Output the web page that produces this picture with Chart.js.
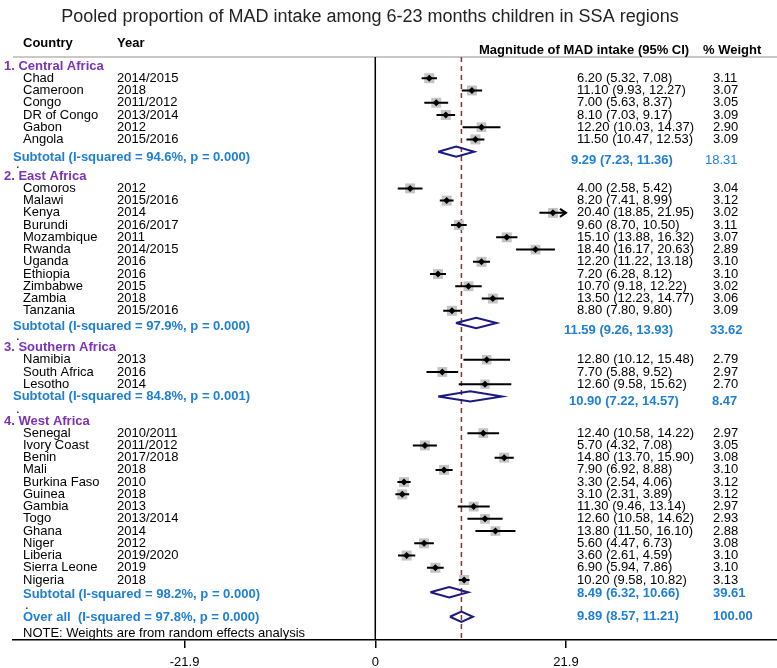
<!DOCTYPE html>
<html lang="en">
<head>
<meta charset="UTF-8">
<title>Pooled proportion of MAD intake</title>
<script src="https://cdn.jsdelivr.net/npm/chart.js"></script>
<style>
    body { margin: 0; background: #fff; }
    #wrap { width: 777px; height: 668px; }
</style>
</head>
<body>
<div id="wrap"><canvas id="forest" width="777" height="668"></canvas></div>
<script>
// study rows, as printed in the figure
const regions = ['1. Central Africa', '2. East Africa', '3. Southern Africa', '4. West Africa'];
const regionOfStudy = [0,0,0,0,0,0, 1,1,1,1,1,1,1,1,1,1,1, 2,2,2, 3,3,3,3,3,3,3,3,3,3,3,3,3];
const countries = ['Chad','Cameroon','Congo','DR of Congo','Gabon','Angola',
    'Comoros','Malawi','Kenya','Burundi','Mozambique','Rwanda','Uganda','Ethiopia','Zimbabwe','Zambia','Tanzania',
    'Namibia','South Africa','Lesotho',
    'Senegal','Ivory Coast','Benin','Mali','Burkina Faso','Guinea','Gambia','Togo','Ghana','Niger','Liberia','Sierra Leone','Nigeria'];
const years = ['2014/2015','2018','2011/2012','2013/2014','2012','2015/2016',
    '2012','2015/2016','2014','2016/2017','2011','2014/2015','2016','2016','2015','2018','2015/2016',
    '2013','2016','2014',
    '2010/2011','2011/2012','2017/2018','2018','2010','2018','2013','2013/2014','2014','2012','2019/2020','2019','2018'];
const estimates = [6.20,11.10,7.00,8.10,12.20,11.50,
    4.00,8.20,20.40,9.60,15.10,18.40,12.20,7.20,10.70,13.50,8.80,
    12.80,7.70,12.60,
    12.40,5.70,14.80,7.90,3.30,3.10,11.30,12.60,13.80,5.60,3.60,6.90,10.20];
const lowerCI = [5.32,9.93,5.63,7.03,10.03,10.47,
    2.58,7.41,18.85,8.70,13.88,16.17,11.22,6.28,9.18,12.23,7.80,
    10.12,5.88,9.58,
    10.58,4.32,13.70,6.92,2.54,2.31,9.46,10.58,11.50,4.47,2.61,5.94,9.58];
const upperCI = [7.08,12.27,8.37,9.17,14.37,12.53,
    5.42,8.99,21.95,10.50,16.32,20.63,13.18,8.12,12.22,14.77,9.80,
    15.48,9.52,15.62,
    14.22,7.08,15.90,8.88,4.06,3.89,13.14,14.62,16.10,6.73,4.59,7.86,10.82];
const weights = ['3.11','3.07','3.05','3.09','2.90','3.09',
    '3.04','3.12','3.02','3.11','3.07','2.89','3.10','3.10','3.02','3.06','3.09',
    '2.79','2.97','2.70',
    '2.97','3.05','3.08','3.10','3.12','3.12','2.97','2.93','2.88','3.08','3.10','3.10','3.13'];

// pooled rows: four subtotals then the overall estimate
const pooledLabels = ['Subtotal (I-squared = 94.6%, p = 0.000)', 'Subtotal (I-squared = 97.9%, p = 0.000)',
    'Subtotal (I-squared = 84.8%, p = 0.001)', 'Subtotal (I-squared = 98.2%, p = 0.000)',
    'Over all  (I-squared = 97.8%, p = 0.000)'];
const pooledEst = [9.29, 11.59, 10.90, 8.49, 9.89];
const pooledLow = [7.23, 9.26, 7.22, 6.32, 8.57];
const pooledHigh = [11.36, 13.93, 14.57, 10.66, 11.21];
const pooledWeight = ['18.31', '33.62', '8.47', '39.61', '100.00'];

const xTicks = [-21.9, 0, 21.9];
const xLimit = 21.9;

// where each text sits (px); stata moves some of them a little
const pooledLabelX = [13, 13, 13, 23, 23];
const pooledLabelShift = [6, 3, 0, 2, 1];
const pooledValueX = [571, 564, 569, 577, 577];
const pooledValueShift = [9, 7, 5, 1, 0];
const pooledWeightX = [705, 710, 712, 713, 713];
const pooledWeightBold = [false, true, true, true, true];
const dotX = [16, 16, 16, 25];

// row numbers: header, studies, subtotal, blank line
let row = 1;
const headerRow = [], studyRow = [], pooledRow = [];
regions.forEach((r, g) => {
    headerRow.push(row++);
    regionOfStudy.forEach((rg, i) => { if (rg === g) studyRow[i] = row++; });
    pooledRow.push(row++);
    row++;
});
pooledRow.push(row);

const FONT = "'Liberation Sans', Arial, sans-serif";
const BLUE = '#1f7fd6';
const PURPLE = '#7b32b8';
const NAVY = '#1a1a80';

const squareData = estimates.map((e, i) => ({x: e, y: studyRow[i]}));
const squareRadius = weights.map(w => 10 * Math.sqrt(parseFloat(w) / 3.1) / Math.SQRT2);
const ciData = [];
estimates.forEach((e, i) => {
    ciData.push({x: lowerCI[i], y: studyRow[i]}, {x: Math.min(upperCI[i], xLimit), y: studyRow[i]}, {x: e, y: null});
});
const diamondData = [];
pooledEst.forEach((e, k) => {
    const r = pooledRow[k];
    diamondData.push({x: pooledLow[k], y: r}, {x: e, y: r - 0.42}, {x: pooledHigh[k], y: r},
        {x: e, y: r + 0.42}, {x: pooledLow[k], y: r}, {x: e, y: null});
});

function txt(ctx, s, x, y, color, bold, size, align) {
    ctx.font = (bold ? 'bold ' : '') + (size || 13) + 'px ' + FONT;
    ctx.fillStyle = color;
    ctx.textAlign = align || 'left';
    ctx.textBaseline = 'middle';
    ctx.fillText(s, x, y);
}

const forestPlugin = {
    id: 'forest',
    beforeDatasetsDraw(chart) {
        const ctx = chart.ctx, xs = chart.scales.x, a = chart.chartArea;
        ctx.save();
        ctx.strokeStyle = '#c8c8c8';
        ctx.lineWidth = 2;
        ctx.beginPath(); ctx.moveTo(a.left, a.top); ctx.lineTo(a.right, a.top); ctx.stroke();
        // null line
        ctx.strokeStyle = '#000';
        ctx.lineWidth = 1.5;
        const x0 = xs.getPixelForValue(0);
        ctx.beginPath(); ctx.moveTo(x0, a.top); ctx.lineTo(x0, a.bottom); ctx.stroke();
        // overall estimate line
        const xo = xs.getPixelForValue(pooledEst[4]);
        ctx.strokeStyle = '#9b2a2a';
        ctx.setLineDash([5, 4]);
        ctx.beginPath(); ctx.moveTo(xo, a.top); ctx.lineTo(xo, a.bottom); ctx.stroke();
        ctx.restore();
    },
    afterDatasetsDraw(chart) {
        const ctx = chart.ctx, xs = chart.scales.x, ys = chart.scales.y;
        ctx.save();
        txt(ctx, 'Pooled proportion of MAD intake among 6-23 months children in SSA regions', 370, 17, '#222', false, 18, 'center');
        txt(ctx, 'Country', 23, 43, '#000', true);
        txt(ctx, 'Year', 117, 43, '#000', true);
        txt(ctx, 'Magnitude of MAD intake (95% CI)', 479, 50, '#000', true);
        txt(ctx, '% Weight', 703, 50, '#000', true);

        regions.forEach((r, g) => txt(ctx, r, 4, ys.getPixelForValue(headerRow[g]), PURPLE, true));
        countries.forEach((c, i) => {
            const y = ys.getPixelForValue(studyRow[i]);
            txt(ctx, c, 23, y, '#000');
            txt(ctx, years[i], 117, y, '#000');
            txt(ctx, estimates[i].toFixed(2) + ' (' + lowerCI[i].toFixed(2) + ', ' + upperCI[i].toFixed(2) + ')', 577, y, '#000');
            txt(ctx, weights[i], 713, y, '#000');
            if (upperCI[i] > xLimit) {
                const xa = xs.getPixelForValue(xLimit);
                ctx.strokeStyle = '#000';
                ctx.lineWidth = 2;
                ctx.beginPath();
                ctx.moveTo(xa - 6, y - 4); ctx.lineTo(xa, y); ctx.lineTo(xa - 6, y + 4);
                ctx.stroke();
            }
        });
        pooledLabels.forEach((l, k) => {
            const y = ys.getPixelForValue(pooledRow[k]);
            txt(ctx, l, pooledLabelX[k], y + pooledLabelShift[k], BLUE, true);
            txt(ctx, pooledEst[k].toFixed(2) + ' (' + pooledLow[k].toFixed(2) + ', ' + pooledHigh[k].toFixed(2) + ')',
                pooledValueX[k], y + pooledValueShift[k], BLUE, true);
            txt(ctx, pooledWeight[k], pooledWeightX[k], y + pooledValueShift[k], BLUE, pooledWeightBold[k]);
            if (k < 4) txt(ctx, '.', dotX[k], ys.getPixelForValue(pooledRow[k] + 1) + 1, '#000');
        });
        txt(ctx, 'NOTE: Weights are from random effects analysis', 23, 633, '#000');
        ctx.restore();
    }
};

new Chart(document.getElementById('forest'), {
    type: 'scatter',
    data: {
        datasets: [
            { data: squareData, pointStyle: 'rect', pointRadius: squareRadius, backgroundColor: '#c4c4c4', borderWidth: 0, order: 3 },
            { data: ciData, showLine: true, spanGaps: false, borderColor: '#000', borderWidth: 2, pointRadius: 0, order: 2 },
            { data: squareData, pointStyle: 'rectRot', pointRadius: 3.5, backgroundColor: '#000', borderWidth: 0, order: 1 },
            { data: diamondData, showLine: true, spanGaps: false, borderColor: NAVY, borderWidth: 2, pointRadius: 0, borderJoinStyle: 'miter', order: 1 }
        ]
    },
    options: {
        responsive: false,
        animation: false,
        layout: { autoPadding: false, padding: { top: 57, left: 13, right: 0, bottom: 0 } },
        plugins: { legend: { display: false }, tooltip: { enabled: false } },
        scales: {
            x: {
                type: 'linear', min: -41.6, max: 46.13,
                afterBuildTicks: s => { s.ticks = xTicks.map(v => ({value: v})); },
                afterFit: s => { s.height = 28; s.paddingLeft = 0; s.paddingRight = 0; },
                grid: { drawOnChartArea: false, drawTicks: true, tickLength: 8, color: '#000', lineWidth: 1.5 },
                border: { display: true, color: '#000', width: 1.5 },
                ticks: { color: '#000', padding: 7, maxRotation: 0, autoSkip: false,
                         font: { family: FONT, size: 13 }, callback: v => String(v) }
            },
            y: { type: 'linear', reverse: true, min: 0.265, max: 47.9, display: false }
        }
    },
    plugins: [forestPlugin]
});
</script>
</body>
</html>
